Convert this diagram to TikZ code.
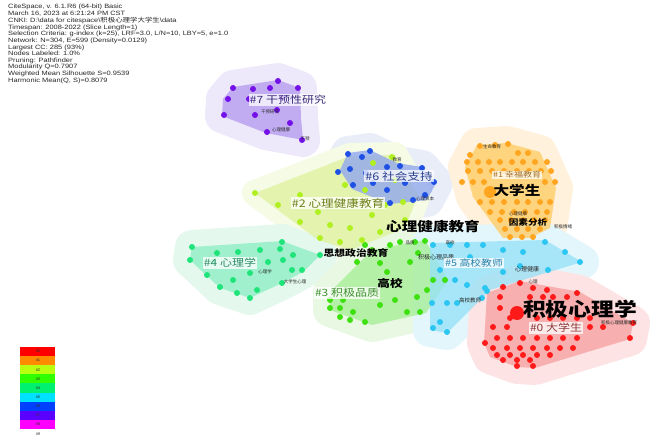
\documentclass[tikz,border=0pt]{standalone}
\usepackage{fontspec}
\setmainfont{Liberation Sans}
\newfontfamily\cjk{Noto Sans CJK SC}
\newcommand\wx[1]{\scalebox{1.2}[1]{#1}}
\definecolor{h0}{HTML}{F7A1A1}\definecolor{g0}{HTML}{FDE3E3}\definecolor{d0}{HTML}{FF1A1A}\definecolor{t0}{HTML}{8A3A3A}
\definecolor{h1}{HTML}{FFCC66}\definecolor{g1}{HTML}{FFF1DC}\definecolor{d1}{HTML}{FFA51F}\definecolor{t1}{HTML}{A0702A}
\definecolor{h2}{HTML}{DFF3A0}\definecolor{g2}{HTML}{F6FBE6}\definecolor{d2}{HTML}{B0F020}\definecolor{t2}{HTML}{6E7F1A}
\definecolor{h3}{HTML}{A6EE96}\definecolor{g3}{HTML}{E9F8E2}\definecolor{d3}{HTML}{3FE010}\definecolor{t3}{HTML}{3F8F2F}
\definecolor{h4}{HTML}{8EEFC4}\definecolor{g4}{HTML}{E4F8EE}\definecolor{d4}{HTML}{1EE47A}\definecolor{t4}{HTML}{2E8B6A}
\definecolor{h5}{HTML}{96E2F7}\definecolor{g5}{HTML}{E3F6FC}\definecolor{d5}{HTML}{2CC6F2}\definecolor{t5}{HTML}{2A7FA8}
\definecolor{h6}{HTML}{8FA6F0}\definecolor{g6}{HTML}{E8EDF8}\definecolor{d6}{HTML}{1E50E6}\definecolor{t6}{HTML}{2A3D8F}
\definecolor{h7}{HTML}{B59CF0}\definecolor{g7}{HTML}{EEE8FB}\definecolor{d7}{HTML}{7410E8}\definecolor{t7}{HTML}{3A2A7A}
\definecolor{l0}{HTML}{FF0000}\definecolor{l1}{HTML}{FF8C00}\definecolor{l2}{HTML}{B8FF10}
\definecolor{l3}{HTML}{30FF00}\definecolor{l4}{HTML}{00F070}\definecolor{l5}{HTML}{00E0FF}
\definecolor{l6}{HTML}{0040FF}\definecolor{l7}{HTML}{5A00FF}\definecolor{l8}{HTML}{FF00FF}
\tikzset{
  halo/.style={line width=34pt, line join=round},
  hull/.style={line join=round, fill opacity=0.78},
  clabel/.style={font=\cjk\fontsize{10}{10}\selectfont, fill=white, fill opacity=0.75, text opacity=1, inner sep=1pt},
  kw/.style={font=\cjk\bfseries\fontsize{13}{13}\selectfont, text=black, inner sep=0pt},
  tinylab/.style={font=\cjk\fontsize{4.5}{4.5}\selectfont, text=black!85, inner sep=0pt},
  legtext/.style={font=\fontsize{4}{4}\selectfont, text=black!80, inner sep=0pt},
}
\begin{document}
\begin{tikzpicture}[x=1pt,y=-1pt]
\useasboundingbox (0,0) rectangle (658,446);
\fill[white] (0,0) rectangle (658,446);

% header
\node[anchor=north west, inner sep=0pt, text=black!85] (hdr) at (8,4) {\scalebox{1.2}[1]{%
\fontsize{6.2}{6.6}\selectfont
\begin{tabular}{@{}l@{}}
CiteSpace, v. 6.1.R6 (64-bit) Basic\\
March 16, 2023 at 6:21:24 PM CST\\
CNKI: D:\textbackslash data for citespace\textbackslash{\cjk 积极心理学大学生}\textbackslash data\\
Timespan: 2008-2022 (Slice Length=1)\\
Selection Criteria: g-index (k=25), LRF=3.0, L/N=10, LBY=5, e=1.0\\
Network: N=304, E=599 (Density=0.0129)\\
Largest CC: 285 (93\%)\\
Nodes Labeled: 1.0\%\\
Pruning: Pathfinder\\
Modularity Q=0.7907\\
Weighted Mean Silhouette S=0.9539\\
Harmonic Mean(Q, S)=0.8079
\end{tabular}}};

% hull paths
\def\hullA{(223,99)--(233,87)--(278,80)--(300,88)--(301,118)--(303,140)--(266,133)--(222,116)--cycle}
\def\hullB{(340,170)--(348,153)--(370,150)--(397,163)--(422,167)--(436,183)--(427,200)--(390,204)--(352,189)--cycle}
\def\hullC{(255,193)--(350,156)--(395,155)--(418,195)--(405,228)--(350,250)--(318,240)--cycle}
\def\hullD{(465,167)--(477,145)--(507,143)--(540,152)--(556,188)--(550,228)--(530,238)--(503,238)--(473,197)--cycle}
\def\hullE{(190,260)--(192,247)--(282,241)--(320,255)--(303,272)--(282,283)--(250,298)--(220,288)--cycle}
\def\hullF{(330,292)--(372,250)--(425,240)--(448,280)--(426,313)--(372,325)--(330,310)--cycle}
\def\hullG{(430,243)--(545,240)--(582,262)--(490,290)--(447,333)--(430,330)--cycle}
\def\hullH{(487,293)--(520,281)--(580,292)--(633,323)--(630,339)--(535,368)--(517,367)--(490,357)--(484,343)--cycle}

% halos
\filldraw[halo, g7] \hullA;
\filldraw[halo, g6] \hullB;
\filldraw[halo, g1] \hullD;
\filldraw[halo, g2, line width=26pt] \hullC;
\filldraw[halo, g4] \hullE;
\filldraw[halo, g3] \hullF;
\filldraw[halo, g5] \hullG;
\filldraw[halo, g0] \hullH;

% hulls
\fill[hull, h7] \hullA;
\fill[hull, h2] \hullC;
\fill[hull, h6] \hullB;
\fill[hull, h1] \hullD;
\fill[hull, h4] \hullE;
\fill[hull, h3] \hullF;
\fill[hull, h5] \hullG;
\fill[hull, h0] \hullH;

% dots #7
\foreach \x/\y in {228/99,233/88,253/89,270/88,278/81,298/88,224/115,255/115,277/110,290/123,267/132,302/140,249/99,282/98}
  \fill[d7] (\x,\y) circle (3pt);
% dots #2
\foreach \x/\y in {255/193,278/205,300/195,318/212,335/205,355/200,345/185,365/190,330/225,350/228,372/215,385/205,395/180,405/220,340/242,362/240,320/238,380/232,373/163,392/157,403/202,300/222}
  \fill[d2] (\x,\y) circle (3pt);
% dots #6
\foreach \x/\y in {348/154,362/157,370/151,338/172,350/169,387/167,400/166,422/168,353/185,373/183,387/190,390/203,413/200,425/195,434/182,366/173,405/183}
  \fill[d6] (\x,\y) circle (3pt);
% dots #1
\foreach \x/\y in {480/146,495/145,508/144,518/153,528/153,470/155,
  467/162,478/162,489/162,500/162,512/162,523/162,535/162,547/162,
  468/171,480/171,492/171,504/171,517/171,529/171,541/171,551/171,
  462/182,473/182,484/182,545/182,555/182,
  480/202,492/202,504/202,517/202,528/202,540/202,550/202,
  490/212,502/212,514/212,525/212,537/212,547/212,
  500/220,511/220,523/220,534/220,545/220,
  505/229,517/229,528/229,540/229,510/237,522/237,533/237}
  \fill[d1] (\x,\y) circle (3pt);
\fill[d1] (490,192) circle (6pt);
% dots #4
\foreach \x/\y in {192/247,217/253,238/252,260/250,282/242,280/249,293/255,320/255,190/260,283/260,302/270,292/270,250/273,207/275,233/280,220/287,257/290,237/293,250/298,282/283,268/262,213/262}
  \fill[d4] (\x,\y) circle (3pt);
% dots #3
\foreach \x/\y in {390/245,400/242,415/242,425/241,380/263,387/272,410/262,418/253,433/280,445/280,427/290,417/297,407/312,420/312,330/300,343/300,330/308,340/308,353/312,340/317,350/320,365/322,372/250,357/262,395/300,380/305,365/245}
  \fill[d3] (\x,\y) circle (3pt);
% dots #5
\foreach \x/\y in {433/245,450/245,467/245,483/245,503/250,523/252,545/242,565/252,580/262,470/257,503/272,520/266,548/270,447/303,457/303,482/298,487/291,433/328,447/332,432/303,440/322,467/285,485/288,440/270,455/280}
  \fill[d5] (\x,\y) circle (3pt);
% dots #0
\foreach \x/\y in {503/287,520/283,533/288,547/290,577/293,
  500/297,530/297,543/297,553/297,567/297,500/308,
  510/318,537/318,550/318,563/318,577/318,590/318,
  493/327,507/327,590/327,603/327,633/323,
  497/338,510/338,523/338,537/338,550/338,563/338,577/338,630/338,485/343,
  493/348,507/348,520/348,533/348,547/348,560/348,573/348,
  497/355,510/355,523/355,537/355,550/355,503/360,517/360,530/360,517/366,533/366}
  \fill[d0] (\x,\y) circle (3pt);
\fill[d0] (517,313) circle (7pt);

% small keyword labels
\node[tinylab] (s71) at (270,112) {干预研究};
\node[tinylab] (s72) at (281,130) {心理健康};
\node[tinylab] (s73) at (305,139) {干预};
\node[tinylab] (s61) at (397,160) {教育};
\node[tinylab] (s62) at (425,199) {心理资本};
\node[tinylab] (s11) at (492,147) {生命教育};
\node[tinylab] (s12) at (518,214) {心理健康};
\node[tinylab] (s13) at (563,227) {积极情绪};
\node[kw, font=\cjk\bfseries\fontsize{8}{8}\selectfont] (s14) at (528,222) {\wx{因素分析}};
\node[tinylab] (s41) at (265,272) {心理学};
\node[tinylab] (s42) at (295,282) {大学生心理};
\node[tinylab] (s31) at (410,243) {品质};
\node[tinylab] (s51) at (450,243) {高校};
\node[tinylab, font=\cjk\fontsize{6}{6}\selectfont] (s52) at (436,257) {积极心理品质};
\node[tinylab, font=\cjk\fontsize{6}{6}\selectfont] (s53) at (527,269) {心理健康};
\node[tinylab, font=\cjk\fontsize{5.5}{5.5}\selectfont] (s54) at (470,300) {高校教师};
\node[tinylab] (s01) at (619,323) {积极心理健康教育};
\node[tinylab] (s02) at (533,282) {心理};

% big keyword labels
\node[kw] (k1) at (433,226) {\wx{心理健康教育}};
\node[kw] (k2) at (517,190) {\wx{大学生}};
\node[kw, font=\cjk\bfseries\fontsize{19}{19}\selectfont] (k3) at (580,309) {\wx{积极心理学}};
\node[kw, font=\cjk\bfseries\fontsize{10.5}{10.5}\selectfont] (k4) at (390,283) {\wx{高校}};
\node[kw, font=\cjk\bfseries\fontsize{9}{9}\selectfont] (k5) at (356,253) {\wx{思想政治教育}};

% cluster labels
\node[clabel, text=t7] (c7) at (288,100) {\wx{\#7 干预性研究}};
\node[clabel, text=t6, font=\cjk\fontsize{10.5}{10.5}\selectfont] (c6) at (399,176) {\wx{\#6 社会支持}};
\node[clabel, text=t2, font=\cjk\fontsize{10.5}{10.5}\selectfont] (c2) at (338,203) {\wx{\#2 心理健康教育}};
\node[clabel, text=t1, font=\cjk\fontsize{7.5}{7.5}\selectfont] (c1) at (517,175) {\wx{\#1 幸福教育}};
\node[clabel, text=t4] (c4) at (230,263) {\wx{\#4 心理学}};
\node[clabel, text=t3] (c3) at (347,293) {\wx{\#3 积极品质}};
\node[clabel, text=t5, font=\cjk\fontsize{9}{9}\selectfont] (c5) at (474,263) {\wx{\#5 高校教师}};
\node[clabel, text=t0] (c0) at (556,328) {\wx{\#0 大学生}};

% legend
\foreach \c [count=\i from 0] in {l0,l1,l2,l3,l4,l5,l6,l7,l8} {
  \fill[\c] (20,{347+9.1*\i}) rectangle (55,{347+9.1*(\i+1)});
  \node[legtext] at (38,{351.5+9.1*\i}) {\#\i};
}
\node[legtext] (leg9) at (38,434) {\#9};
\end{tikzpicture}
\end{document}
